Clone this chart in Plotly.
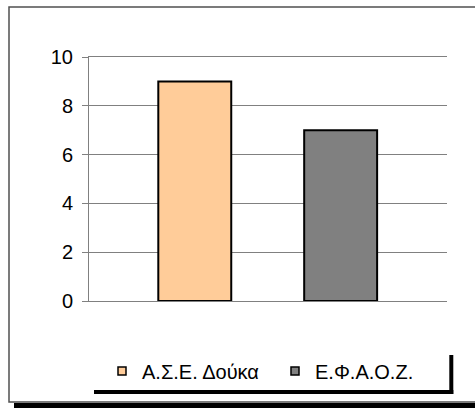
import plotly.graph_objects as go

categories = ["Α.Σ.Ε. Δούκα", "Ε.Φ.Α.Ο.Ζ."]
values = [9, 7]
colors = ["#FFCC99", "#808080"]
y_ticks = [0, 2, 4, 6, 8, 10]

W, H = 475, 408
L, R, T, B = 89, 28, 57, 107
PW = W - L - R
PH = H - T - B


def px(x):
    return (x - L) / PW


def py(y):
    return (H - B - y) / PH


fig = go.Figure()
for cat, val, col in zip(categories, values, colors):
    fig.add_trace(go.Bar(
        x=[cat], y=[val], width=0.5,
        marker=dict(color=col, line=dict(color="black", width=2)),
        showlegend=False, name=cat,
    ))
for cat, col in zip(categories, colors):
    fig.add_trace(go.Scatter(
        x=[None], y=[None], mode="markers", name=cat,
        marker=dict(symbol="square", size=8, color=col,
                    line=dict(color="black", width=1.5)),
    ))

shapes = [
    # outer chart frame
    dict(type="rect", xref="paper", yref="paper",
         x0=px(9), x1=px(480), y0=py(402), y1=py(7),
         line=dict(color="#505050", width=1.5), fillcolor="rgba(0,0,0,0)", layer="below"),
    # outer shadow
    dict(type="rect", xref="paper", yref="paper",
         x0=px(14), x1=px(480), y0=py(408), y1=py(403),
         line=dict(width=0), fillcolor="black"),
    # legend shadow bottom
    dict(type="rect", xref="paper", yref="paper",
         x0=px(94), x1=px(453.3), y0=py(394), y1=py(390),
         line=dict(width=0), fillcolor="black"),
    # legend shadow right
    dict(type="rect", xref="paper", yref="paper",
         x0=px(449.3), x1=px(453.3), y0=py(394), y1=py(355),
         line=dict(width=0), fillcolor="black"),
]

fig.update_layout(
    width=W, height=H,
    margin=dict(l=L, r=R, t=T, b=B, pad=0),
    paper_bgcolor="white", plot_bgcolor="white",
    font=dict(family="Liberation Sans, Arial, sans-serif", size=20, color="black"),
    barmode="overlay",
    showlegend=True,
    legend=dict(orientation="h", x=px(102), y=py(371), xanchor="left", yanchor="middle",
                font=dict(size=20), itemwidth=30, bgcolor="rgba(0,0,0,0)",
                borderwidth=0, entrywidth=128, entrywidthmode="pixels"),
    shapes=shapes,
    xaxis=dict(type="category", categoryorder="array", categoryarray=categories,
               range=[-0.725, 1.729], showticklabels=False, ticks="",
               showgrid=False, zeroline=False, showline=True, mirror=True,
               linecolor="#808080", linewidth=1, fixedrange=True),
    yaxis=dict(range=[0, 10], tickvals=y_ticks, ticks="outside", ticklen=6,
               tickcolor="#808080", tickwidth=1, ticklabelstandoff=5,
               showgrid=True, gridcolor="#808080", gridwidth=1,
               zeroline=False, showline=True, linecolor="#808080", linewidth=1,
               tickfont=dict(size=20), fixedrange=True),
)

fig.write_html(
    "out.html",
    config={"displayModeBar": False},
    post_script="document.body.style.margin='0';document.body.style.overflow='hidden';",
)
